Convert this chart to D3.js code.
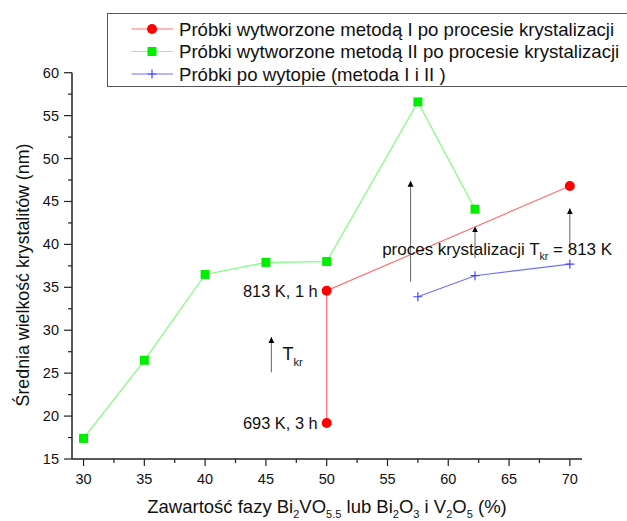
<!DOCTYPE html>
<html>
<head>
<meta charset="utf-8">
<script src="https://cdn.jsdelivr.net/npm/d3@7"></script>
<style>
  html, body { margin: 0; padding: 0; background: #fff; }
  svg { display: block; font-family: "Liberation Sans", Arial, sans-serif; }
</style>
</head>
<body>
<svg id="chart" width="627" height="521"></svg>
<script>
// ---- data ----
const xGreen = [30, 35, 40, 45, 50, 57.5, 62.2];
const yGreen = [17.4, 26.5, 36.5, 37.9, 38.0, 56.6, 44.1];
const xRed = [50, 50, 70];
const yRed = [19.2, 34.6, 46.8];
const xBlue = [57.5, 62.2, 70];
const yBlue = [33.9, 36.35, 37.7];
const xTicks = [30, 35, 40, 45, 50, 55, 60, 65, 70];
const yTicks = [15, 20, 25, 30, 35, 40, 45, 50, 55, 60];
const legendLabels = [
  "Próbki wytworzone metodą I po procesie krystalizacji",
  "Próbki wytworzone metodą II po procesie krystalizacji",
  "Próbki po wytopie (metoda I i II )"
];
// arrows: [x, yFrom, yTo]
const arrows = [[56.9, 35.65, 47.4], [62.2, 38.4, 42.1], [70, 39.7, 44.2], [45.45, 25.1, 29.2]];

const svg = d3.select("#chart");
const x = d3.scaleLinear().domain([29.05, 71]).range([72, 582]);
const y = d3.scaleLinear().domain([15, 60]).range([459, 72.7]);

// defs arrow marker
svg.append("defs").append("marker")
  .attr("id", "ah").attr("viewBox", "0 0 10 10").attr("refX", 10).attr("refY", 5)
  .attr("markerUnits", "userSpaceOnUse").attr("markerWidth", 6).attr("markerHeight", 10)
  .attr("orient", "auto")
  .append("path").attr("d", "M0,0 L10,5 L0,10 Z").attr("fill", "#000");

// legend box
const lg = svg.append("g");
lg.append("rect").attr("x", 107.5).attr("y", 13.5).attr("width", 540).attr("height", 73)
  .attr("fill", "#fff").attr("stroke", "#555").attr("stroke-width", 1);

// axes
const xAxis = svg.append("g").attr("transform", "translate(0,459)");
xAxis.append("line").attr("x1", 72).attr("x2", 582).attr("stroke", "#222").attr("stroke-width", 1.5);
const xMinor = d3.range(30, 71, 2.5);
xAxis.selectAll("line.mt").data(xMinor).join("line").attr("class", "mt")
  .attr("x1", d => x(d)).attr("x2", d => x(d)).attr("y1", 0)
  .attr("y2", d => (Number.isInteger(d) && d % 5 === 0) ? 7 : 4)
  .attr("stroke", "#222").attr("stroke-width", 1.2);
xAxis.selectAll("text").data(xTicks).join("text")
  .attr("x", d => x(d)).attr("y", 25).attr("text-anchor", "middle")
  .attr("font-size", 14.5).attr("fill", "#111").text(d => d);

const yAxis = svg.append("g").attr("transform", "translate(72,0)");
yAxis.append("line").attr("y1", y(15)).attr("y2", y(60)).attr("stroke", "#222").attr("stroke-width", 1.5);
const yMinor = d3.range(15, 60.1, 2.5);
yAxis.selectAll("line.mt").data(yMinor).join("line").attr("class", "mt")
  .attr("y1", d => y(d)).attr("y2", d => y(d)).attr("x1", 0)
  .attr("x2", d => (Number.isInteger(d) && d % 5 === 0) ? -8 : -4)
  .attr("stroke", "#222").attr("stroke-width", 1.2);
yAxis.selectAll("text").data(yTicks).join("text")
  .attr("x", -13).attr("y", d => y(d) + 5).attr("text-anchor", "end")
  .attr("font-size", 14.5).attr("fill", "#111").text(d => d);

// axis titles
svg.append("text").attr("transform", "translate(29,275) rotate(-90)")
  .attr("text-anchor", "middle").attr("font-size", 17.8).attr("fill", "#111")
  .text("Średnia wielkość krystalitów (nm)");

const xt = svg.append("text").attr("x", 327).attr("y", 513).attr("text-anchor", "middle")
  .attr("font-size", 18.5).attr("fill", "#111");
const parts = [["Zawartość fazy Bi", 0], ["2", 1], ["VO", 0], ["5.5", 1], [" lub Bi", 0], ["2", 1], ["O", 0], ["3", 1], [" i V", 0], ["2", 1], ["O", 0], ["5", 1], [" (%)", 0]];
let prevSub = 0;
parts.forEach(([t, s]) => {
  const sp = xt.append("tspan").text(t);
  if (s) sp.attr("font-size", 11);
  if (s && !prevSub) sp.attr("dy", 5);
  else if (!s && prevSub) sp.attr("dy", -5);
  prevSub = s;
});

// lines
const line = d3.line().x(d => x(d[0])).y(d => y(d[1]));
const gData = xGreen.map((v, i) => [v, yGreen[i]]);
const rData = xRed.map((v, i) => [v, yRed[i]]);
const bData = xBlue.map((v, i) => [v, yBlue[i]]);

// arrows
svg.selectAll("line.arr").data(arrows).join("line").attr("class", "arr")
  .attr("x1", d => x(d[0])).attr("x2", d => x(d[0]))
  .attr("y1", d => y(d[1])).attr("y2", d => y(d[2]))
  .attr("stroke", "#666").attr("stroke-width", 1).attr("marker-end", "url(#ah)");

svg.append("path").datum(gData).attr("d", line).attr("fill", "none").attr("stroke", "#7dff7d").attr("stroke-width", 1.2);
svg.append("path").datum(rData).attr("d", line).attr("fill", "none").attr("stroke", "#ff7070").attr("stroke-width", 1.2);
svg.append("path").datum(bData).attr("d", line).attr("fill", "none").attr("stroke", "#7070ff").attr("stroke-width", 1.2);

// markers
svg.selectAll("rect.g").data(gData).join("rect").attr("class", "g")
  .attr("x", d => x(d[0]) - 4.5).attr("y", d => y(d[1]) - 4.5).attr("width", 9).attr("height", 9)
  .attr("fill", "#00ee00");
svg.selectAll("circle.r").data(rData).join("circle").attr("class", "r")
  .attr("cx", d => x(d[0])).attr("cy", d => y(d[1])).attr("r", 5).attr("fill", "#ff0000");
svg.selectAll("path.b").data(bData).join("path").attr("class", "b")
  .attr("transform", d => `translate(${x(d[0])},${y(d[1])})`)
  .attr("d", "M-4.5,0H4.5M0,-4.5V4.5").attr("stroke", "#4444ff").attr("stroke-width", 1.2).attr("fill", "none");

// annotations
svg.append("text").attr("x", x(50) - 9).attr("y", y(yRed[1]) + 6).attr("text-anchor", "end")
  .attr("font-size", 16.4).attr("fill", "#111").text("813 K, 1 h");
svg.append("text").attr("x", x(50) - 9).attr("y", y(yRed[0]) + 6).attr("text-anchor", "end")
  .attr("font-size", 16.4).attr("fill", "#111").text("693 K, 3 h");
const tk = svg.append("text").attr("x", x(46.36)).attr("y", y(26.5)).attr("font-size", 18).attr("fill", "#111");
tk.append("tspan").text("T");
tk.append("tspan").attr("dy", 6).attr("font-size", 11).text("kr");
const pk = svg.append("text").attr("x", x(54.56)).attr("y", y(38.76)).attr("font-size", 17).attr("fill", "#111");
pk.append("tspan").text("proces krystalizacji T");
pk.append("tspan").attr("dy", 5).attr("font-size", 10.5).text("kr");
pk.append("tspan").attr("dy", -5).text(" = 813 K");

// legend entries
const colors = ["#ff7070", "#7dff7d", "#7070ff"];
legendLabels.forEach((lab, i) => {
  const cy = 29 + i * 22.5;
  lg.append("line").attr("x1", 131.5).attr("x2", 173).attr("y1", cy).attr("y2", cy)
    .attr("stroke", colors[i]).attr("stroke-width", 1.2);
  if (i === 0) lg.append("circle").attr("cx", 152).attr("cy", cy).attr("r", 5).attr("fill", "#ff0000");
  if (i === 1) lg.append("rect").attr("x", 147.5).attr("y", cy - 4.5).attr("width", 9).attr("height", 9).attr("fill", "#00ee00");
  if (i === 2) lg.append("path").attr("transform", `translate(152,${cy})`).attr("d", "M-4.5,0H4.5M0,-4.5V4.5")
    .attr("stroke", "#4444ff").attr("stroke-width", 1.2);
  lg.append("text").attr("x", 179).attr("y", cy + 6.5).attr("font-size", 18.6).attr("fill", "#111").text(lab);
});
</script>
</body>
</html>
